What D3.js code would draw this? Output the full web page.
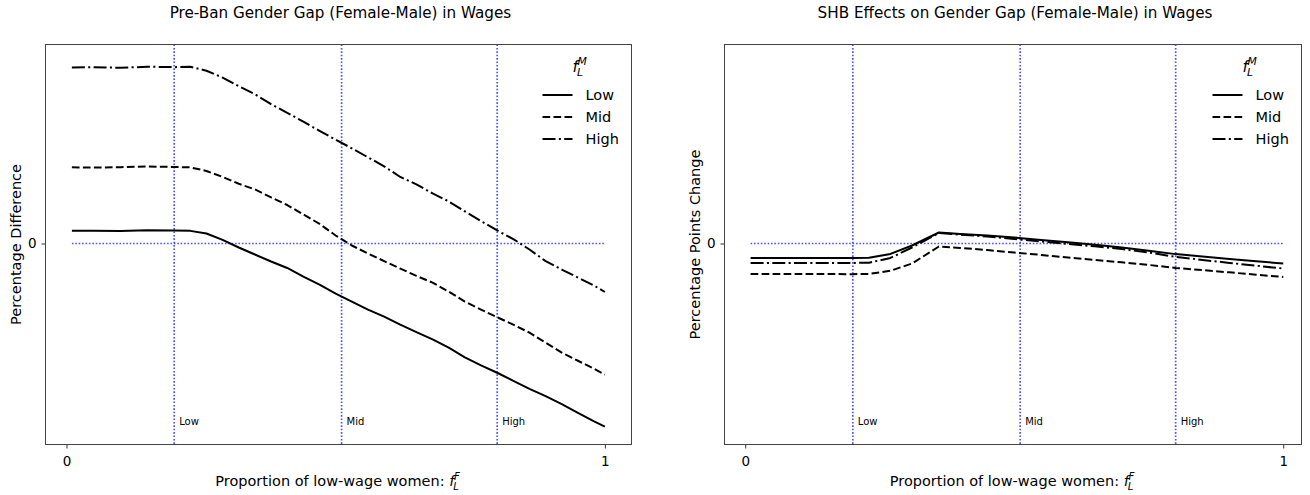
<!DOCTYPE html>
<html>
<head>
<meta charset="utf-8">
<script src="https://cdn.jsdelivr.net/npm/d3@7"></script>
<style>
  html, body { margin: 0; padding: 0; background: #fff; }
  svg { display: block; font-family: "DejaVu Sans", sans-serif; }
</style>
</head>
<body>
<svg id="chart" width="1310" height="495"></svg>
<script>
// ---------------- DATA ----------------
const seriesNames = ["Low", "Mid", "High"];
const cutoffs = [0.2, 0.511, 0.8];
const cutoffLabels = ["Low", "Mid", "High"];
const xTicks = [0, 1];
const yTicks = [0];

// Left panel: pre-ban gap
const xsPre = [0.01, 0.05, 0.10, 0.15, 0.20, 0.23, 0.26, 0.29, 0.32, 0.35, 0.38, 0.41, 0.44, 0.47, 0.50, 0.53,
               0.56, 0.59, 0.62, 0.65, 0.68, 0.71, 0.74, 0.77, 0.80, 0.83, 0.86, 0.89, 0.92, 0.95, 0.98, 1.00];
const preLow  = [0.63, 0.64, 0.62, 0.66, 0.65, 0.63, 0.50, 0.18, -0.20, -0.55, -0.90, -1.22, -1.65, -2.05, -2.50, -2.90,
                 -3.30, -3.65, -4.05, -4.42, -4.78, -5.20, -5.68, -6.08, -6.45, -6.85, -7.25, -7.62, -8.02, -8.45, -8.88, -9.14];
const preMid  = [3.80, 3.79, 3.81, 3.84, 3.82, 3.80, 3.62, 3.32, 2.98, 2.70, 2.30, 1.92, 1.45, 0.98, 0.40, -0.10,
                 -0.50, -0.88, -1.25, -1.62, -1.95, -2.40, -2.90, -3.30, -3.68, -4.05, -4.45, -4.95, -5.45, -5.85, -6.25, -6.54];
const preHigh = [8.78, 8.80, 8.77, 8.82, 8.80, 8.82, 8.62, 8.28, 7.85, 7.45, 6.95, 6.52, 6.08, 5.62, 5.18, 4.75,
                 4.30, 3.85, 3.32, 2.95, 2.50, 2.10, 1.60, 1.12, 0.65, 0.22, -0.30, -0.88, -1.30, -1.70, -2.10, -2.42];

// Right panel: SHB effects
const xsEff = [0.01, 0.10, 0.20, 0.23, 0.27, 0.31, 0.36, 0.40, 0.45, 0.50, 0.55, 0.60, 0.65, 0.70, 0.75, 0.80, 0.85, 0.90, 0.95, 1.00];
const effLow  = [-0.72, -0.72, -0.72, -0.71, -0.52, -0.10, 0.55, 0.48, 0.40, 0.30, 0.18, 0.06, -0.06, -0.20, -0.36, -0.53, -0.65, -0.77, -0.89, -1.00];
const effMid  = [-1.52, -1.52, -1.53, -1.52, -1.36, -1.00, -0.15, -0.22, -0.33, -0.45, -0.57, -0.70, -0.82, -0.94, -1.07, -1.22, -1.33, -1.44, -1.56, -1.67];
const effHigh = [-0.97, -0.97, -0.97, -0.96, -0.72, -0.20, 0.52, 0.44, 0.35, 0.22, 0.10, -0.02, -0.14, -0.28, -0.45, -0.67, -0.82, -0.97, -1.11, -1.25];

const titles = ["Pre-Ban Gender Gap (Female-Male) in Wages", "SHB Effects on Gender Gap (Female-Male) in Wages"];
const yLabels = ["Percentage Difference", "Percentage Points Change"];
const xLabelText = "Proportion of low-wage women: ";

// ---------------- STYLE ----------------
const dashes = { Low: null, Mid: "7.7,3.3", High: "13,3.3,2.1,3.3" };
const svg = d3.select("#chart");

const panels = [
  { left: 45.5, right: 631.5, xDom: [-0.039, 1.0495], xs: xsPre, ys: [preLow, preMid, preHigh], title: titles[0], ylab: yLabels[0], ylabX: 16 },
  { left: 724.5, right: 1301.5, xDom: [-0.0385, 1.0339], xs: xsEff, ys: [effLow, effMid, effHigh], title: titles[1], ylab: yLabels[1], ylabX: 695 }
];
const plotTop = 44.5, plotBottom = 444.5;
const yDom = [-10.03, 9.93];
const blue = "#3333ff";

function mathF(sel, sup, size) {
  const s = size * 0.7;
  sel.append("tspan").attr("font-style", "italic").text("f");
  sel.append("tspan").attr("font-style", "italic").attr("font-size", s).attr("dx", -1).attr("dy", size * 0.25).text("L");
  sel.append("tspan").attr("font-style", "italic").attr("font-size", s).attr("dx", -s * 0.5).attr("dy", -size * 0.68).text(sup);
}

panels.forEach(p => {
  const x = d3.scaleLinear().domain(p.xDom).range([p.left, p.right]);
  const y = d3.scaleLinear().domain(yDom).range([plotBottom, plotTop]);
  const g = svg.append("g");

  // cutoff vertical lines
  cutoffs.forEach((c, i) => {
    g.append("line")
      .attr("x1", x(c)).attr("x2", x(c)).attr("y1", plotTop).attr("y2", plotBottom)
      .attr("stroke", blue).attr("stroke-opacity", 0.85).attr("stroke-width", 1.7)
      .attr("stroke-dasharray", "1.6,1.8");
    g.append("text").attr("x", x(c) + 5).attr("y", 425)
      .attr("font-size", 10).attr("fill", "#000").text(cutoffLabels[i]);
  });
  // zero horizontal line
  g.append("line")
    .attr("x1", x(p.xs[0])).attr("x2", x(1)).attr("y1", y(0)).attr("y2", y(0))
    .attr("stroke", blue).attr("stroke-opacity", 0.85).attr("stroke-width", 1.7)
    .attr("stroke-dasharray", "1.6,1.8");

  // series lines
  const line = d3.line().x(d => x(d[0])).y(d => y(d[1]));
  seriesNames.forEach((name, i) => {
    const pts = p.xs.map((xv, j) => [xv, p.ys[i][j]]);
    g.append("path").datum(pts).attr("d", line)
      .attr("fill", "none").attr("stroke", "#000").attr("stroke-width", 2)
      .attr("stroke-linejoin", "round")
      .attr("stroke-dasharray", dashes[name]);
  });

  // axes
  const xAxis = d3.axisBottom(x).tickValues(xTicks).tickFormat(d3.format("d")).tickSizeOuter(0).tickSize(4).tickPadding(5);
  const gx = g.append("g").attr("transform", `translate(0,${plotBottom})`).call(xAxis);
  const yAxis = d3.axisLeft(y).tickValues(yTicks).tickFormat(d3.format("d")).tickSizeOuter(0).tickSize(4).tickPadding(5);
  const gy = g.append("g").attr("transform", `translate(${p.left},0)`).call(yAxis);
  [gx, gy].forEach(a => {
    a.select(".domain").remove();
    a.selectAll("text").attr("font-size", 13.5).attr("font-family", "DejaVu Sans").attr("fill", "#000");
    a.selectAll("line").attr("stroke", "#333");
  });
  gx.selectAll("text").attr("dy", "0.95em");

  // frame
  g.append("rect").attr("x", p.left).attr("y", plotTop).attr("width", p.right - p.left).attr("height", plotBottom - plotTop)
    .attr("fill", "none").attr("stroke", "#444").attr("stroke-width", 1);

  // title
  g.append("text").attr("x", (p.left + p.right) / 2 + 2).attr("y", 18).attr("text-anchor", "middle")
    .attr("font-size", 15.2).attr("fill", "#000").text(p.title);

  // y label
  g.append("text").attr("transform", `translate(${p.ylabX},${(plotTop + plotBottom) / 2}) rotate(-90)`)
    .attr("text-anchor", "middle").attr("dy", "0.35em").attr("font-size", 14.5).attr("fill", "#000").text(p.ylab);

  // x label
  const xl = g.append("text").attr("x", (p.left + p.right) / 2 - 1).attr("y", 486).attr("text-anchor", "middle")
    .attr("font-size", 14.5).attr("fill", "#000");
  xl.append("tspan").text(xLabelText);
  mathF(xl, "F", 14.5);

  // legend
  const lx = p.right - 89;
  const lt = g.append("text").attr("x", lx + 30).attr("y", 72).attr("font-size", 15.5).attr("fill", "#000");
  mathF(lt, "M", 15.5);
  seriesNames.forEach((name, i) => {
    const yy = 95 + i * 22;
    g.append("line").attr("x1", lx).attr("x2", lx + 30).attr("y1", yy).attr("y2", yy)
      .attr("stroke", "#000").attr("stroke-width", 2).attr("stroke-dasharray", dashes[name]);
    g.append("text").attr("x", lx + 43).attr("y", yy).attr("dy", "0.35em")
      .attr("font-size", 14.5).attr("fill", "#000").text(name);
  });
});
</script>
</body>
</html>
